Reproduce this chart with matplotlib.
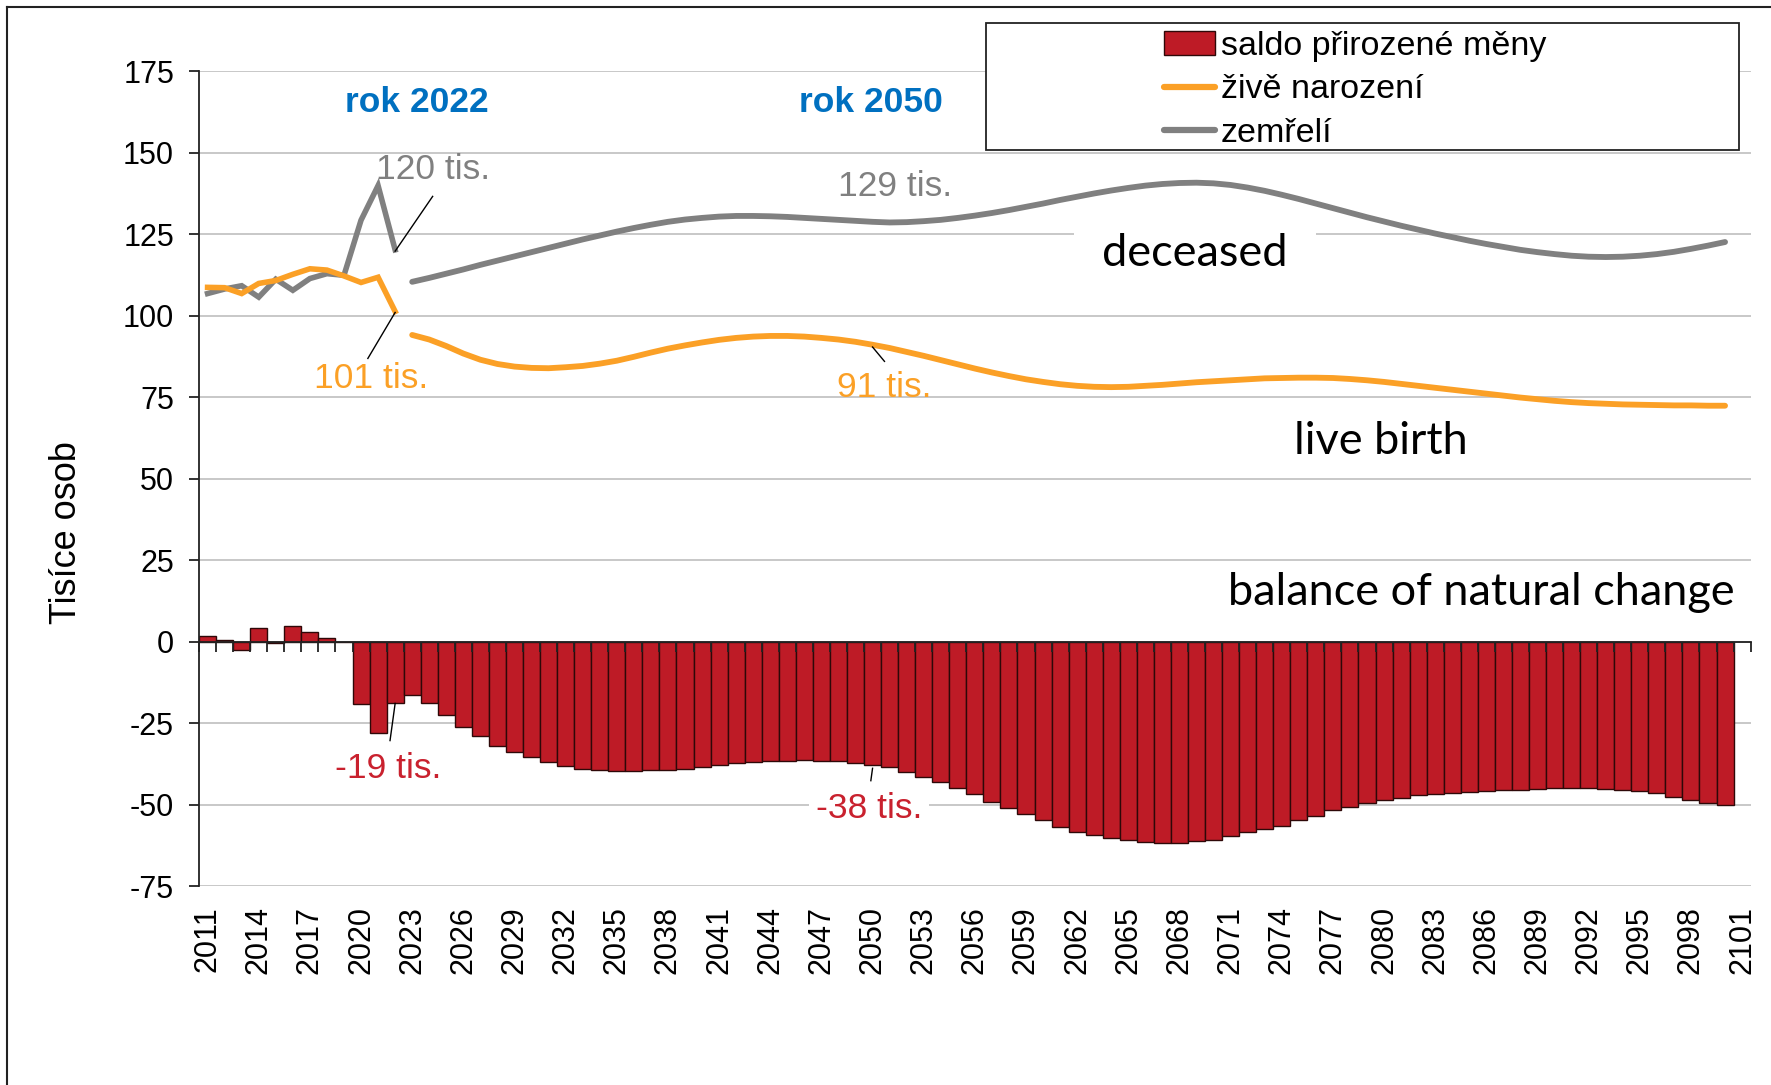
import matplotlib
matplotlib.use("Agg")
import matplotlib.pyplot as plt
from matplotlib.patches import Patch, Rectangle
from matplotlib.lines import Line2D

plt.rcParams['font.family'] = ['Liberation Sans', 'DejaVu Sans']
plt.rcParams['axes.unicode_minus'] = False

# ---------------- data (thousands of persons) ----------------
years_hist = list(range(2011, 2023))
births_hist = [108.7, 108.6, 106.8, 109.9, 110.8, 112.7, 114.4, 114.0, 112.2, 110.2, 111.8, 101.3]
deaths_hist = [106.8, 108.2, 109.2, 105.7, 111.2, 107.8, 111.4, 112.9, 112.4, 129.3, 139.9, 120.2]

years_proj = list(range(2023, 2101))
births_proj = [94.1, 92.7, 90.7, 88.4, 86.5, 85.2, 84.4, 84.0, 83.9, 84.2,
               84.6, 85.3, 86.2, 87.4, 88.7, 89.9, 90.9, 91.8, 92.6, 93.2,
               93.6, 93.8, 93.8, 93.6, 93.2, 92.7, 92.0, 91.1, 90.1, 88.9,
               87.7, 86.4, 85.1, 83.8, 82.6, 81.5, 80.5, 79.7, 79.0, 78.5,
               78.2, 78.1, 78.2, 78.5, 78.8, 79.2, 79.6, 79.9, 80.2, 80.5,
               80.8, 80.9, 81.0, 81.0, 80.9, 80.6, 80.2, 79.7, 79.1, 78.5,
               77.9, 77.3, 76.7, 76.1, 75.5, 74.9, 74.4, 73.9, 73.5, 73.2,
               73.0, 72.8, 72.7, 72.6, 72.5, 72.5, 72.4, 72.4]
deaths_proj = [110.4, 111.6, 112.9, 114.2, 115.6, 116.9, 118.2, 119.5, 120.8, 122.1,
               123.4, 124.6, 125.8, 126.9, 127.9, 128.8, 129.5, 130.0, 130.4, 130.6,
               130.6, 130.5, 130.3, 130.0, 129.7, 129.4, 129.1, 128.8, 128.6, 128.7,
               129.0, 129.4, 130.0, 130.7, 131.5, 132.4, 133.4, 134.4, 135.5, 136.5,
               137.5, 138.4, 139.2, 139.9, 140.4, 140.7, 140.8, 140.6, 140.1, 139.3,
               138.3, 137.1, 135.8, 134.4, 133.0, 131.6, 130.2, 128.9, 127.6, 126.4,
               125.2, 124.1, 123.0, 122.0, 121.1, 120.2, 119.5, 118.9, 118.4, 118.1,
               118.0, 118.1, 118.4, 118.9, 119.6, 120.5, 121.5, 122.6]

years_all = list(range(2011, 2101))
balance = [1.8, 0.4, -2.4, 4.2, -0.4, 4.9, 3.0, 1.1, -0.2, -19.1, -28.1, -18.9,
           -16.3, -18.9, -22.3, -26.0, -28.9, -32.0, -33.9, -35.4, -37.0, -38.0,
           -38.9, -39.2, -39.6, -39.6, -39.2, -39.2, -38.9, -38.4, -37.9, -37.3,
           -36.9, -36.7, -36.6, -36.4, -36.6, -36.7, -37.1, -37.7, -38.5, -39.9,
           -41.5, -43.0, -44.9, -46.8, -49.0, -50.9, -52.8, -54.7, -56.8, -58.2,
           -59.2, -60.1, -60.7, -61.5, -61.6, -61.6, -61.2, -60.7, -59.6, -58.4,
           -57.4, -56.4, -54.7, -53.3, -51.7, -50.6, -49.5, -48.6, -47.9, -47.1,
           -46.8, -46.4, -46.0, -45.7, -45.4, -45.4, -45.1, -44.7, -44.7, -44.7,
           -45.1, -45.4, -45.8, -46.5, -47.6, -48.4, -49.5, -50.2]

tick_years = list(range(2011, 2102, 3))
y_ticks = [175, 150, 125, 100, 75, 50, 25, 0, -25, -50, -75]

# ---------------- styles ----------------
C_BAR = '#BE1B26'
C_BIRTH = '#FBA026'
C_DEATH = '#808080'
C_BLUE = '#0070C0'
C_RED_TXT = '#C9212E'
FS_TICK = 22
FS_ANN = 25.5

fig = plt.figure(figsize=(17.71, 10.85), dpi=100)
ax = fig.add_axes([0.1124, 0.1831, 0.8761, 0.7513])

ax.set_xlim(2010.5, 2101.5)
ax.set_ylim(-75, 175)

# gridlines
ax.set_yticks(y_ticks)
ax.yaxis.grid(True, color='#C4C4C4', linewidth=1.3, zorder=0)
ax.set_axisbelow(True)

# bars
ax.bar(years_all, balance, width=1.0, color=C_BAR, edgecolor='#2e0808',
       linewidth=1.0, zorder=2)

# lines
ax.plot(years_hist, deaths_hist, color=C_DEATH, lw=4, zorder=4, solid_joinstyle='miter')
ax.plot(years_hist, births_hist, color=C_BIRTH, lw=4, zorder=4, solid_joinstyle='miter')
ax.plot(years_proj, deaths_proj, color=C_DEATH, lw=4.2, zorder=4, solid_capstyle='round')
ax.plot(years_proj, births_proj, color=C_BIRTH, lw=4.2, zorder=4, solid_capstyle='round')

# spines / ticks
for s in ['top', 'right', 'bottom']:
    ax.spines[s].set_visible(False)
ax.spines['left'].set_color('#222222')
ax.spines['left'].set_linewidth(1.3)
ax.tick_params(axis='y', direction='out', length=7, width=1.3, color='#222222',
               pad=11, labelsize=FS_TICK)
ax.set_xticks(tick_years)
ax.set_xticklabels([str(y) for y in tick_years], rotation=90, fontsize=FS_TICK)
ax.tick_params(axis='x', length=0, pad=14)

# zero axis with category-boundary ticks
sec = ax.secondary_xaxis(0.3)
sec.set_xticks([y - 0.5 for y in years_all] + [2100.5, 2101.5])
sec.tick_params(axis='x', direction='out', length=7, width=1.3, color='#222222',
                labelbottom=False)
sec.spines['bottom'].set_color('#222222')
sec.spines['bottom'].set_linewidth(1.3)
sec.set_zorder(5)

# y label
fig.text(0.0377, 0.509, 'Tisíce osob', rotation=90, ha='center', va='center', fontsize=26)

# annotations
ax.text(2023.3, 165.3, 'rok 2022', color=C_BLUE, fontsize=FS_ANN, fontweight='bold',
        ha='center', va='center')
ax.text(2049.9, 165.3, 'rok 2050', color=C_BLUE, fontsize=FS_ANN, fontweight='bold',
        ha='center', va='center')

ax.text(2024.2, 144.9, '120 tis.', color=C_DEATH, fontsize=FS_ANN, ha='center', va='center')
ax.plot([2022.0, 2024.2], [119.8, 136.6], color='black', lw=1.0, zorder=5)
ax.text(2020.6, 80.9, '101 tis.', color=C_BIRTH, fontsize=FS_ANN, ha='center', va='center')
ax.plot([2022.0, 2020.4], [101.0, 86.9], color='black', lw=1.0, zorder=5)
ax.text(2051.3, 139.7, '129 tis.', color=C_DEATH, fontsize=FS_ANN, ha='center', va='center')
ax.text(2050.7, 78.0, '91 tis.', color=C_BIRTH, fontsize=FS_ANN, ha='center', va='center')
ax.plot([2050.0, 2050.7], [90.4, 86.0], color='black', lw=1.0, zorder=5)
ax.text(2021.6, -38.8, '-19 tis.', color=C_RED_TXT, fontsize=FS_ANN, ha='center', va='center')
ax.plot([2022.0, 2021.7], [-18.9, -30.3], color='black', lw=1.0, zorder=5)
ax.text(2049.8, -51.2, '-38 tis.', color=C_RED_TXT, fontsize=FS_ANN, ha='center', va='center',
        bbox=dict(facecolor='white', edgecolor='none', pad=5), zorder=3)
ax.plot([2050.0, 2049.9], [-38.8, -42.6], color='black', lw=1.0, zorder=5)

# English labels on white boxes
eng = ['Lato', 'DejaVu Sans']
ax.text(2068.9, 119.1, 'deceased', family=eng, fontsize=32.5, ha='center', va='center',
        zorder=1.5, bbox=dict(facecolor='white', edgecolor='none', pad=20))
ax.text(2079.8, 61.3, 'live birth', family=eng, fontsize=32.5, ha='center', va='center',
        zorder=1.5, bbox=dict(facecolor='white', edgecolor='none', pad=9))
ax.text(2085.7, 15.2, 'balance of natural change', family=eng, fontsize=32.5,
        ha='center', va='center', zorder=1.5)

# legend box
fig.patches.append(Rectangle((0.5568, 0.8616), 0.4253, 0.1176, transform=fig.transFigure,
                             facecolor='white', edgecolor='#222222', linewidth=1.3,
                             zorder=6))
handles = [Patch(facecolor=C_BAR, edgecolor='#2e0808', linewidth=1.0),
           Line2D([], [], color=C_BIRTH, lw=4.5, solid_capstyle='round'),
           Line2D([], [], color=C_DEATH, lw=4.5, solid_capstyle='round')]
labels = ['saldo přirozené měny', 'živě narození', 'zemřelí']
leg = fig.legend(handles, labels, loc='upper left', bbox_to_anchor=(0.6575, 0.9712),
                 frameon=False, borderpad=0, handlelength=1.5,
                 handletextpad=0.15, labelspacing=0.36, borderaxespad=0,
                 prop={'family': ['Liberation Sans'], 'size': 24.5})
leg.set_zorder(7)

# outer frame (left and top edges visible)
fig.add_artist(Line2D([0.0041, 0.0041], [0, 0.9935], color='#222222', lw=1.5,
                      transform=fig.transFigure))
fig.add_artist(Line2D([0.0041, 1.0], [0.9935, 0.9935], color='#222222', lw=1.5,
                      transform=fig.transFigure))

fig.savefig('out.png', dpi=100)
